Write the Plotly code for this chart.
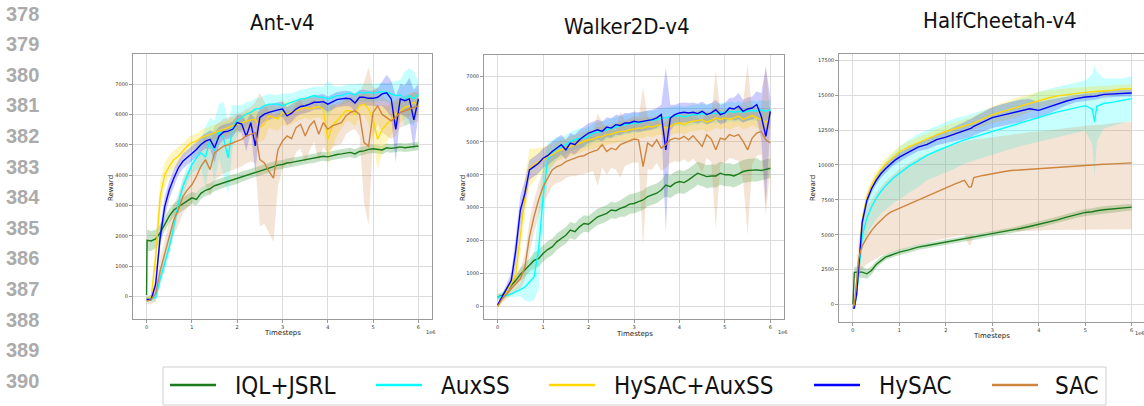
import plotly.graph_objects as go

W, H = 1144, 406

# ---------------- labels / styling data ----------------
LABELS = ["IQL+JSRL", "AuxSS", "HySAC+AuxSS", "HySAC", "SAC"]
LINE_COLORS = ["#1b7a1b", "#00ffff", "#ffd700", "#0000ff", "#cd853f"]
BAND_COLORS = ["rgba(0,128,0,0.22)", "rgba(0,255,255,0.22)", "rgba(255,215,0,0.25)",
               "rgba(0,0,255,0.20)", "rgba(205,133,63,0.22)"]
TITLES = ["Ant-v4", "Walker2D-v4", "HalfCheetah-v4"]
X_TICKS = [0, 1, 2, 3, 4, 5, 6]
ANT_Y_TICKS = [0, 1000, 2000, 3000, 4000, 5000, 6000, 7000]
WALKER_Y_TICKS = [0, 1000, 2000, 3000, 4000, 5000, 6000, 7000]
CHEETAH_Y_TICKS = [0, 2500, 5000, 7500, 10000, 12500, 15000, 17500]
LINE_NUMBERS = [378, 379, 380, 381, 382, 383, 384, 385, 386, 387, 388, 389, 390]

# ---------------- Ant-v4 (timesteps in 1e6) ----------------
ANT_T = [0, 0.01,
         0.1, 0.2, 0.3, 0.4, 0.5, 0.6, 0.7, 0.8, 0.9, 1.0,
         1.1, 1.2, 1.3, 1.4, 1.5, 1.6, 1.7, 1.8, 1.9, 2.0,
         2.1, 2.2, 2.3, 2.4, 2.5, 2.6, 2.7, 2.8, 2.9, 3.0,
         3.1, 3.2, 3.3, 3.4, 3.5, 3.6, 3.7, 3.8, 3.9, 4.0,
         4.1, 4.2, 4.3, 4.4, 4.5, 4.6, 4.7, 4.8, 4.9, 5.0,
         5.1, 5.2, 5.3, 5.4, 5.5, 5.6, 5.7, 5.8, 5.9, 6.0]
ANT_IQL = [50, 1850,
           1830, 1900, 2100, 2400, 2650, 2850, 2950, 3050, 3150, 3250,
           3200, 3400, 3500, 3550, 3650, 3700, 3750, 3800, 3850, 3880,
           3950, 4000, 4050, 4100, 4150, 4200, 4250, 4300, 4330, 4350,
           4400, 4420, 4450, 4480, 4500, 4530, 4550, 4600, 4620, 4600,
           4650, 4680, 4700, 4720, 4750, 4700, 4780, 4800, 4850, 4870,
           4850, 4830, 4900, 4880, 4900, 4930, 4900, 4920, 4930, 4960]
ANT_IQL_SD = [0, 350,
              330, 300, 280, 250, 230, 220, 220, 210, 200, 200,
              200, 190, 190, 180, 180, 180, 170, 170, 170, 170,
              170, 160, 160, 160, 160, 160, 160, 150, 150, 150,
              150, 150, 150, 150, 150, 150, 150, 150, 150, 150,
              150, 150, 150, 150, 150, 150, 150, 140, 140, 140,
              140, 140, 140, 140, 140, 140, 140, 140, 140, 140]
ANT_AUX = [-50, -50,
           -60, -40, 580, 1075, 1630, 2295, 3070, 3625, 4013, 4345,
           4570, 4735, 4600, 5180, 4800, 5455, 5200, 4570, 5620, 5790,
           5900, 6010, 6065, 6175, 6200, 6285, 6340, 6340, 6340, 6285,
           6340, 6400, 6450, 6510, 6530, 6565, 6620, 6565, 6565, 6510,
           6565, 6620, 6620, 6675, 6700, 6640, 6730, 6700, 6730, 6700,
           6730, 6750, 6730, 6675, 6620, 6640, 6510, 6620, 6510, 6675]
ANT_AUX_SD = [100, 100,
              100, 150, 200, 250, 250, 300, 300, 300, 300, 300,
              400, 500, 1000, 700, 1000, 900, 1200, 1200, 700, 500,
              400, 400, 350, 350, 350, 350, 350, 300, 300, 400,
              350, 300, 300, 300, 300, 300, 300, 350, 350, 600,
              400, 300, 300, 300, 300, 350, 300, 300, 300, 300,
              300, 300, 300, 400, 500, 500, 900, 900, 900, 400]
ANT_HYAUX = [-50, -50,
             -50, 1300, 3290, 4013, 4290, 4510, 4620, 4790, 4955, 5070,
             5120, 5230, 5290, 5345, 5400, 5455, 5530, 5565, 5620, 5675,
             5730, 5790, 5820, 5840, 5565, 5675, 5950, 5900, 5850, 6065,
             6000, 6065, 6120, 6175, 6230, 6175, 6230, 6260, 6175, 5180,
             5620, 5790, 5950, 6120, 6120, 6000, 6285, 6340, 6175, 5840,
             5180, 5510, 5675, 5840, 6010, 6120, 6230, 6285, 6400, 6285]
ANT_HYAUX_SD = [50, 50,
                100, 500, 500, 400, 350, 300, 300, 250, 250, 250,
                250, 250, 250, 250, 250, 250, 250, 250, 250, 250,
                250, 300, 300, 300, 500, 500, 400, 400, 400, 400,
                400, 400, 350, 350, 350, 350, 350, 350, 400, 900,
                700, 500, 400, 350, 350, 400, 350, 350, 500, 700,
                1000, 800, 600, 500, 400, 400, 350, 350, 350, 350]
ANT_HYSAC = [-100, -100,
             -100, 410, 1960, 2960, 3510, 3900, 4235, 4457, 4570, 4710,
             4845, 5010, 5120, 5180, 4900, 5290, 5420, 5450, 5510, 5730,
             5680, 5270, 5730, 4960, 5900, 6010, 6065, 6120, 6150, 6175,
             5950, 6040, 6175, 6260, 6285, 6340, 6400, 6400, 6420, 6340,
             6400, 6485, 6510, 6530, 6510, 6375, 6565, 6565, 6530, 6530,
             6565, 6675, 6710, 6510, 5510, 6510, 6450, 6510, 5820, 6510]
ANT_HYSAC_SD = [30, 30,
                30, 200, 350, 350, 300, 300, 250, 250, 250, 250,
                250, 250, 250, 300, 500, 300, 250, 250, 250, 250,
                300, 500, 300, 900, 300, 250, 250, 250, 250, 250,
                300, 300, 250, 250, 250, 250, 250, 250, 250, 250,
                250, 250, 250, 250, 250, 300, 250, 250, 250, 250,
                300, 400, 600, 600, 1100, 500, 500, 700, 1000, 500]
ANT_SAC = [-150, -150,
           -100, 100, 850, 1400, 1960, 2520, 2850, 3290, 3515, 3680,
           3960, 4290, 4510, 4180, 4735, 4845, 4955, 5000, 5070, 5120,
           5180, 5290, 5345, 5400, 4510, 4400, 4125, 3900, 4845, 5120,
           5290, 5200, 5565, 5675, 5290, 5620, 5790, 5345, 5730, 5510,
           5620, 5675, 5730, 5950, 6065, 6120, 6000, 5070, 4955, 6065,
           6285, 6000, 5900, 5790, 5900, 6065, 6120, 6175, 6230, 6285]
ANT_SAC_SD = [100, 100,
              150, 250, 400, 500, 500, 500, 500, 550, 600, 600,
              600, 700, 800, 900, 900, 900, 900, 900, 900, 900,
              900, 900, 900, 1000, 2200, 2000, 2000, 2100, 1200, 900,
              900, 900, 800, 800, 900, 800, 700, 900, 800, 800,
              700, 700, 700, 600, 600, 600, 700, 2000, 2600, 800,
              600, 600, 600, 600, 600, 500, 500, 500, 500, 500]

# ---------------- Walker2D-v4 ----------------
WALKER_T = [0,
            0.1, 0.2, 0.3, 0.4, 0.5, 0.6, 0.7, 0.8, 0.9, 1.0,
            1.1, 1.2, 1.3, 1.4, 1.5, 1.6, 1.7, 1.8, 1.9, 2.0,
            2.1, 2.2, 2.3, 2.4, 2.5, 2.6, 2.7, 2.8, 2.9, 3.0,
            3.1, 3.2, 3.3, 3.4, 3.5, 3.6, 3.7, 3.8, 3.9, 4.0,
            4.1, 4.2, 4.3, 4.4, 4.5, 4.6, 4.7, 4.8, 4.9, 5.0,
            5.1, 5.2, 5.3, 5.4, 5.5, 5.6, 5.7, 5.8, 5.9, 6.0]
WALKER_IQL = [285,
              335, 490, 640, 795, 975, 1100, 1250, 1400, 1455, 1610,
              1730, 1810, 1965, 2065, 2165, 2320, 2270, 2420, 2520, 2500,
              2625, 2725, 2775, 2830, 2930, 2910, 2980, 3030, 3110, 3130,
              3185, 3235, 3335, 3390, 3440, 3540, 3690, 3640, 3745, 3795,
              3765, 3845, 3945, 4050, 4000, 3945, 3965, 3965, 4050, 4000,
              4000, 3965, 4030, 4100, 4130, 4150, 4150, 4130, 4170, 4200]
WALKER_IQL_SD = [100,
                 100, 100, 120, 150, 200, 200, 200, 250, 250, 250,
                 250, 250, 250, 250, 250, 250, 250, 250, 250, 250,
                 250, 250, 250, 250, 250, 250, 250, 300, 300, 300,
                 300, 300, 300, 300, 300, 300, 350, 350, 350, 350,
                 350, 350, 350, 350, 350, 350, 350, 350, 350, 350,
                 350, 350, 350, 350, 350, 350, 350, 300, 300, 300]
WALKER_AUX = [285,
              305, 335, 385, 440, 510, 590, 740, 895, 1710, 3335,
              4455, 4660, 4810, 4840, 4915, 5015, 5065, 5115, 5115, 5170,
              5270, 5290, 5320, 5370, 5420, 5450, 5495, 5525, 5550, 5575,
              5575, 5625, 5655, 5655, 5675, 5730, 5730, 5760, 5780, 5800,
              5760, 5800, 5830, 5830, 5860, 5830, 5880, 5860, 5900, 5880,
              5930, 5900, 5930, 5900, 5930, 5960, 5930, 5980, 5930, 5980]
WALKER_AUX_SD = [80,
                 80, 80, 100, 150, 200, 400, 600, 700, 1200, 1000,
                 500, 400, 350, 300, 300, 300, 300, 300, 300, 300,
                 300, 300, 300, 300, 300, 300, 300, 300, 300, 300,
                 300, 300, 300, 300, 300, 300, 300, 300, 300, 300,
                 300, 300, 300, 300, 300, 300, 300, 300, 300, 300,
                 300, 300, 300, 300, 300, 300, 300, 300, 300, 300]
WALKER_HYAUX = [0,
                230, 440, 690, 1000, 2115, 3335, 4200, 4300, 4400, 4455,
                4560, 4610, 4710, 4760, 4810, 4860, 4915, 4965, 5015, 5065,
                5080, 5150, 5160, 5220, 5240, 5270, 5320, 5320, 5370, 5390,
                5420, 5420, 5475, 5450, 5500, 5525, 5420, 5475, 5555, 5575,
                5525, 5600, 5625, 5650, 5675, 5600, 5650, 5730, 5680, 5730,
                5680, 5730, 5780, 5680, 5730, 5800, 5730, 5680, 5595, 5730]
WALKER_HYAUX_SD = [50,
                   100, 150, 200, 300, 500, 600, 600, 500, 400, 400,
                   350, 350, 300, 300, 300, 300, 300, 300, 300, 300,
                   300, 300, 300, 300, 300, 300, 300, 300, 300, 300,
                   300, 300, 300, 300, 300, 300, 300, 300, 300, 300,
                   300, 300, 300, 300, 300, 300, 300, 300, 300, 300,
                   300, 300, 300, 300, 300, 300, 300, 300, 300, 300]
WALKER_HYSAC = [50,
                285, 540, 795, 1710, 2930, 3440, 4150, 4250, 4350, 4505,
                4580, 4710, 4810, 4915, 4760, 4965, 4915, 5065, 5170, 5270,
                5320, 5370, 5320, 5450, 5420, 5525, 5500, 5575, 5575, 5625,
                5600, 5625, 5655, 5675, 5730, 5830, 4760, 5730, 5830, 5880,
                5900, 5880, 5900, 5860, 5930, 5830, 5880, 5980, 5830, 5880,
                6030, 6000, 6085, 5930, 6000, 6030, 6135, 5780, 5170, 5930]
WALKER_HYSAC_SD = [50,
                   80, 150, 250, 450, 450, 400, 300, 300, 300, 300,
                   300, 300, 300, 300, 300, 300, 300, 300, 300, 300,
                   300, 300, 300, 300, 300, 300, 300, 300, 300, 300,
                   300, 300, 300, 300, 300, 300, 2500, 400, 300, 300,
                   300, 300, 300, 300, 300, 300, 300, 300, 300, 300,
                   300, 350, 400, 350, 350, 350, 400, 700, 2100, 400]
WALKER_SAC = [0,
              230, 385, 540, 690, 845, 1200, 2115, 2725, 3235, 3640,
              3895, 4150, 4250, 4300, 4400, 4455, 4505, 4560, 4580, 4660,
              4710, 4760, 4915, 4710, 4810, 4760, 4915, 4965, 5015, 5085,
              5060, 4250, 4965, 4860, 5065, 4810, 4915, 5065, 5115, 5085,
              5170, 5065, 5190, 5015, 4860, 5220, 5085, 4760, 5115, 5065,
              5220, 5170, 5220, 5015, 4760, 5115, 5270, 5320, 5065, 4965]
WALKER_SAC_SD = [50,
                 100, 150, 200, 250, 300, 400, 500, 500, 500, 500,
                 500, 500, 500, 500, 500, 500, 550, 550, 550, 600,
                 600, 1100, 700, 700, 600, 600, 1000, 700, 700, 700,
                 700, 2400, 800, 700, 700, 700, 700, 700, 700, 700,
                 700, 700, 700, 700, 800, 700, 700, 2400, 800, 700,
                 700, 700, 800, 1200, 2600, 800, 700, 700, 2300, 700]

# ---------------- HalfCheetah-v4 ----------------
CHEETAH_T = [0, 0.03, 0.08, 0.12, 0.16,
             0.2, 0.3, 0.4, 0.5, 0.6, 0.7, 0.8, 0.9, 1.0,
             1.2, 1.4, 1.6, 1.8, 2.0, 2.2, 2.4,
             2.5, 2.55, 2.6,
             2.8, 3.0, 3.2, 3.4, 3.6, 3.8, 4.0, 4.2, 4.4, 4.6, 4.8, 5.0,
             5.15, 5.2, 5.25,
             5.4, 5.6, 5.8, 6.0]
CHEETAH_IQL = [0, 2300, 2320, 2320, 2330,
               2320, 2200, 2440, 2870, 3155, 3395, 3515, 3635, 3755,
               3920, 4110, 4230, 4350, 4470, 4590, 4710,
               4770, 4800, 4830,
               4925, 5070, 5190, 5310, 5450, 5595, 5740, 5905, 6070, 6265, 6455, 6600,
               6650, 6695, 6720,
               6790, 6860, 6910, 6980]
CHEETAH_IQL_SD = [0, 400, 400, 400, 400,
                  400, 350, 300, 250, 250, 200, 200, 200, 200,
                  200, 200, 200, 200, 200, 200, 200,
                  200, 200, 200,
                  200, 200, 200, 200, 220, 220, 230, 230, 240, 240, 250, 250,
                  250, 250, 250,
                  250, 250, 250, 250]
CHEETAH_AUX = [-200, -150, 700, 2300, 3900,
               4900, 6200, 7000, 7600, 8100, 8500, 8850, 9150, 9400,
               9900, 10300, 10700, 11000, 11300, 11550, 11800,
               11900, 11950, 12000,
               12250, 12450, 12650, 12850, 13050, 13250, 13450, 13650, 13800, 13950, 14100, 14250,
               14000, 13100, 14200,
               14400, 14500, 14600, 14750]
CHEETAH_AUX_SD = [50, 100, 300, 600, 900,
                  1000, 1200, 1400, 1500, 1600, 1700, 1800, 1800, 1900,
                  1900, 1900, 1800, 1800, 1800, 1800, 1700,
                  1700, 1700, 1700,
                  1700, 1700, 1700, 1700, 1700, 1700, 1800, 1800, 1800, 1800, 1800, 1800,
                  2500, 4000, 2500,
                  1800, 1700, 1600, 1600]
CHEETAH_HYAUX = [-200, -150, 900, 2700, 4700,
                 6100, 7700, 8550, 9150, 9650, 10050, 10350, 10650, 10950,
                 11300, 11600, 11900, 12150, 12400, 12600, 12800,
                 12900, 12950, 13000,
                 13300, 13600, 13800, 14000, 14200, 14400, 14650, 14800, 14950, 15050, 15150, 15200,
                 15250, 15250, 15260,
                 15300, 15350, 15450, 15450]
CHEETAH_HYAUX_SD = [50, 100, 300, 400, 400,
                    400, 400, 400, 400, 400, 400, 400, 400, 400,
                    400, 400, 400, 400, 450, 450, 500,
                    500, 500, 500,
                    550, 600, 650, 700, 700, 650, 600, 550, 500, 450, 400, 400,
                    400, 400, 400,
                    350, 350, 350, 350]
CHEETAH_HYSAC = [-250, -250, 765, 2440, 4590,
                 5905, 7460, 8295, 8895, 9370, 9730, 10040, 10330, 10565,
                 10925, 11285, 11475, 11810, 12000, 12240, 12480,
                 12600, 12640, 12770,
                 13080, 13390, 13555, 13720, 13865, 14030, 13910, 14150, 14390, 14580, 14750, 14870,
                 14900, 14920, 14940,
                 15060, 15100, 15160, 15160]
CHEETAH_HYSAC_SD = [30, 50, 300, 400, 400,
                    400, 350, 300, 300, 300, 300, 300, 300, 300,
                    300, 300, 350, 400, 450, 500, 600,
                    650, 650, 650,
                    700, 750, 800, 800, 800, 700, 600, 500, 400, 300, 250, 250,
                    250, 250, 250,
                    250, 250, 250, 250]
CHEETAH_SAC = [-200, 0, 1700, 3200, 3800,
               4200, 4800, 5300, 5700, 6050, 6350, 6600, 6750, 6850,
               7200, 7500, 7800, 8100, 8400, 8650, 8900,
               8400, 8450, 9100,
               9250, 9400, 9500, 9600, 9650, 9700, 9700, 9800, 9850, 9900, 9950, 10000,
               10000, 10000, 10050,
               10050, 10080, 10100, 10150]
CHEETAH_SAC_LO = [-250, -100, 1000, 2000, 2300,
                  2600, 2900, 3100, 3300, 3500, 3600, 3700, 3800, 3900,
                  4100, 4300, 4450, 4600, 4750, 4900, 5000,
                  4200, 4400, 5050,
                  5100, 5150, 5200, 5250, 5250, 5300, 5300, 5350, 5350, 5350, 5350, 5350,
                  5350, 5350, 5350,
                  5350, 5400, 5400, 5400]
CHEETAH_SAC_HI = [-150, 100, 2500, 4500, 5500,
                  6200, 7000, 7500, 8000, 8400, 8800, 9100, 9400, 9700,
                  10100, 10500, 10800, 11000, 11300, 11500, 11700,
                  11750, 11800, 11850,
                  11900, 12000, 12100, 12200, 12300, 12350, 12400, 12450, 12550, 12650, 12750, 12800,
                  12850, 12850, 12850,
                  12900, 13000, 13050, 13100]


def band(mean, sd):
    return [m - s for m, s in zip(mean, sd)], [m + s for m, s in zip(mean, sd)]


PANELS = [
    dict(t=ANT_T, series=[
        (ANT_IQL,) + tuple(band(ANT_IQL, ANT_IQL_SD)),
        (ANT_AUX,) + tuple(band(ANT_AUX, ANT_AUX_SD)),
        (ANT_HYAUX,) + tuple(band(ANT_HYAUX, ANT_HYAUX_SD)),
        (ANT_HYSAC,) + tuple(band(ANT_HYSAC, ANT_HYSAC_SD)),
        (ANT_SAC,) + tuple(band(ANT_SAC, ANT_SAC_SD)),
    ]),
    dict(t=WALKER_T, series=[
        (WALKER_IQL,) + tuple(band(WALKER_IQL, WALKER_IQL_SD)),
        (WALKER_AUX,) + tuple(band(WALKER_AUX, WALKER_AUX_SD)),
        (WALKER_HYAUX,) + tuple(band(WALKER_HYAUX, WALKER_HYAUX_SD)),
        (WALKER_HYSAC,) + tuple(band(WALKER_HYSAC, WALKER_HYSAC_SD)),
        (WALKER_SAC,) + tuple(band(WALKER_SAC, WALKER_SAC_SD)),
    ]),
    dict(t=CHEETAH_T, series=[
        (CHEETAH_IQL,) + tuple(band(CHEETAH_IQL, CHEETAH_IQL_SD)),
        (CHEETAH_AUX,) + tuple(band(CHEETAH_AUX, CHEETAH_AUX_SD)),
        (CHEETAH_HYAUX,) + tuple(band(CHEETAH_HYAUX, CHEETAH_HYAUX_SD)),
        (CHEETAH_HYSAC,) + tuple(band(CHEETAH_HYSAC, CHEETAH_HYSAC_SD)),
        (CHEETAH_SAC, CHEETAH_SAC_LO, CHEETAH_SAC_HI),
    ]),
]

for p in PANELS:
    for s in p["series"]:
        for arr in s:
            assert len(arr) == len(p["t"]), (len(arr), len(p["t"]))


def px(x):
    return x / W


def py(y):
    return 1 - y / H


fig = go.Figure()

axis_ids = ["", "2", "3"]
for i, p in enumerate(PANELS):
    xa, ya = "x" + axis_ids[i], "y" + axis_ids[i]
    t = p["t"]
    for k, (mean, lo, hi) in enumerate(p["series"]):
        fig.add_trace(go.Scatter(
            x=list(t) + list(t[::-1]), y=list(hi) + list(lo[::-1]),
            fill="toself", fillcolor=BAND_COLORS[k], line=dict(width=0),
            mode="lines", hoverinfo="skip", showlegend=False, xaxis=xa, yaxis=ya))
    for k, (mean, lo, hi) in enumerate(p["series"]):
        fig.add_trace(go.Scatter(
            x=t, y=mean, mode="lines", name=LABELS[k],
            line=dict(color=LINE_COLORS[k], width=1.4),
            showlegend=False, legendgroup=LABELS[k], xaxis=xa, yaxis=ya))

# geometry of the three panels (pixels)
FRAMES = [
    dict(l=133, r=432, t=54, b=319, xr=[-0.3, 6.3], yr=[-740, 7990], yt=ANT_Y_TICKS),
    dict(l=484, r=784, t=55, b=319, xr=[-0.3, 6.3], yr=[-380, 7640], yt=WALKER_Y_TICKS),
    dict(l=839, r=1144, t=54, b=322, xr=[-0.3, 6.265], yr=[-1250, 17950], yt=CHEETAH_Y_TICKS),
]

tickfont = dict(family="DejaVu Sans", size=5, color="#333333")
layout_axes = {}
for i, f in enumerate(FRAMES):
    sfx = "" if i == 0 else str(i + 1)
    layout_axes["xaxis" + sfx] = dict(
        domain=[px(f["l"]), px(f["r"])], range=f["xr"], anchor="y" + sfx,
        tickvals=X_TICKS, ticktext=[str(v) for v in X_TICKS], tickfont=tickfont,
        showgrid=True, gridcolor="#dcdcdc", gridwidth=1, zeroline=False,
        showline=True, linecolor="#9a9a9a", linewidth=1, mirror=True,
        ticks="outside", ticklen=3, tickcolor="#9a9a9a", fixedrange=True)
    layout_axes["yaxis" + sfx] = dict(
        domain=[py(f["b"]), py(f["t"])], range=f["yr"], anchor="x" + sfx,
        tickvals=f["yt"], ticktext=[str(v) for v in f["yt"]], tickfont=tickfont,
        showgrid=True, gridcolor="#dcdcdc", gridwidth=1, zeroline=False,
        showline=True, linecolor="#9a9a9a", linewidth=1, mirror=(i < 2),
        ticks="outside", ticklen=3, tickcolor="#9a9a9a", fixedrange=True)

annotations = []
# panel titles
TITLE_POS = [(282, 23), (626, 26), (1000, 20)]
for title, (x, y) in zip(TITLES, TITLE_POS):
    annotations.append(dict(text=title, x=px(x), y=py(y), xref="paper", yref="paper",
                            showarrow=False, xanchor="center", yanchor="middle",
                            font=dict(family="DejaVu Sans Condensed, DejaVu Sans", size=22, color="#111111")))
# axis labels
REWARD_X = [111, 463, 813]
TIME_POS = [(282, 333), (634, 334), (992, 336)]
OFFSET_POS = [(424, 332), (776, 332), (1133, 333)]
for i in range(3):
    annotations.append(dict(text="Reward", x=px(REWARD_X[i]), y=py(188), xref="paper", yref="paper",
                            showarrow=False, textangle=-90, xanchor="center", yanchor="middle",
                            font=dict(family="DejaVu Sans", size=7, color="#222222")))
    annotations.append(dict(text="Timesteps", x=px(TIME_POS[i][0]), y=py(TIME_POS[i][1]),
                            xref="paper", yref="paper", showarrow=False,
                            xanchor="center", yanchor="middle",
                            font=dict(family="DejaVu Sans", size=7, color="#222222")))
    annotations.append(dict(text="1e6", x=px(OFFSET_POS[i][0]), y=py(OFFSET_POS[i][1]),
                            xref="paper", yref="paper", showarrow=False,
                            xanchor="left", yanchor="middle",
                            font=dict(family="DejaVu Sans", size=5, color="#333333")))
# line numbers down the left margin
for j, n in enumerate(LINE_NUMBERS):
    annotations.append(dict(text=str(n), x=px(4), y=py(13.5 + j * 30.6), xref="paper", yref="paper",
                            showarrow=False, xanchor="left", yanchor="middle",
                            font=dict(family="Liberation Sans, Arial", size=20, color="#ababab",
                                      weight="bold")))

# legend (drawn below the panels)
shapes = [dict(type="rect", xref="paper", yref="paper", x0=px(163), x1=px(1106),
               y0=py(405), y1=py(367), line=dict(color="#cfcfcf", width=1), fillcolor="white")]
LEG_LINE_X = [170, 376, 549, 814, 992]
LEG_TEXT_X = [233, 439, 612, 877, 1053]
for k, lab in enumerate(LABELS):
    shapes.append(dict(type="line", xref="paper", yref="paper",
                       x0=px(LEG_LINE_X[k]), x1=px(LEG_LINE_X[k] + 46), y0=py(385), y1=py(385),
                       line=dict(color=LINE_COLORS[k], width=2.5)))
    annotations.append(dict(text=lab, x=px(LEG_TEXT_X[k]), y=py(386), xref="paper", yref="paper",
                            showarrow=False, xanchor="left", yanchor="middle",
                            font=dict(family="DejaVu Sans Condensed, DejaVu Sans", size=24,
                                      color="#111111")))

fig.update_layout(
    width=W, height=H, autosize=False,
    margin=dict(l=0, r=0, t=0, b=0, pad=0),
    paper_bgcolor="white", plot_bgcolor="white",
    showlegend=False, annotations=annotations, shapes=shapes,
    **layout_axes)

fig.write_html("out.html", config={"displayModeBar": False})
